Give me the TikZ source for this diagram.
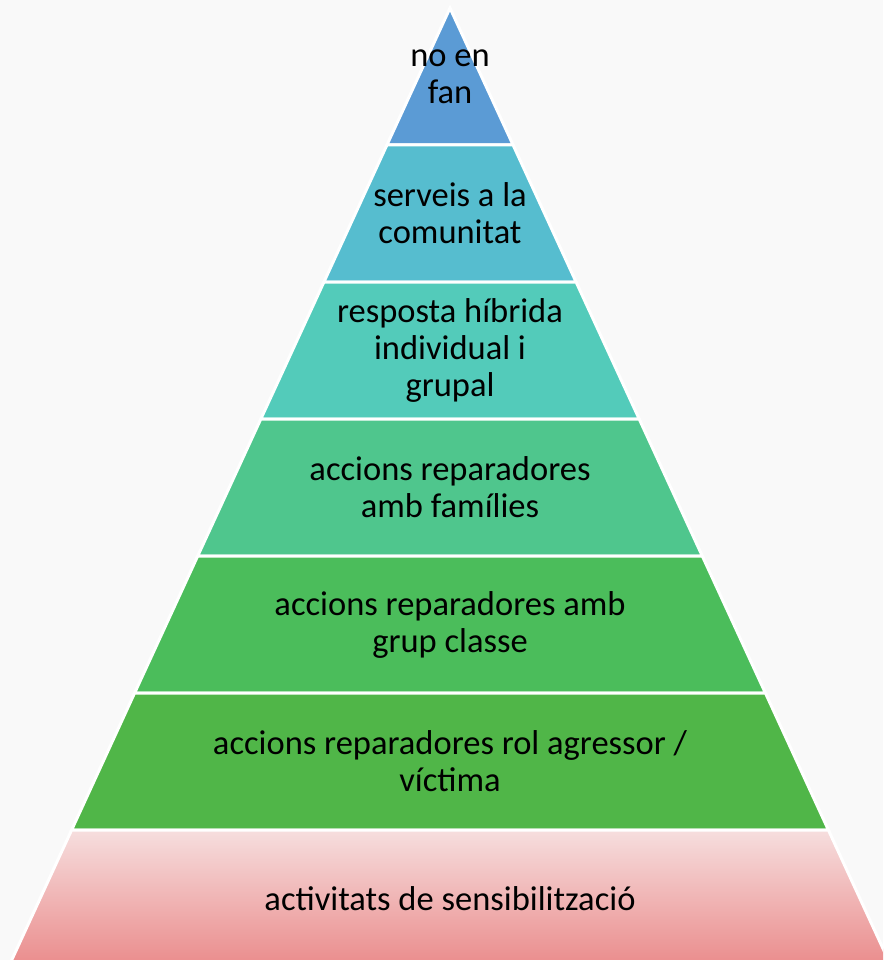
\documentclass[tikz,border=0pt]{standalone}
\usepackage{fontspec}
\setmainfont{Carlito}
\usetikzlibrary{calc}

\definecolor{bgcol}{HTML}{F9F9F9}
\definecolor{lvlone}{HTML}{5B9BD5}
\definecolor{lvltwo}{HTML}{56BDCF}
\definecolor{lvlthree}{HTML}{53CBBA}
\definecolor{lvlfour}{HTML}{4FC68D}
\definecolor{lvlfive}{HTML}{4BBD5B}
\definecolor{lvlsix}{HTML}{50B648}
\definecolor{basetop}{HTML}{F6DEDE}
\definecolor{basebot}{HTML}{EA8B8B}

\begin{document}
\begin{tikzpicture}[x=1pt, y=-1pt,
    layer/.style={draw=white, line width=3pt, line join=miter},
    lbl/.style={align=center, text=black,
                font=\fontsize{34.5}{37}\selectfont},
]

% background and page size
\fill[bgcol] (0,0) rectangle (883,960);
\useasboundingbox (0,0) rectangle (883,960);

% pyramid layers, top to bottom
\begin{scope}
\clip (0,0) rectangle (883,960);
\filldraw[layer, fill=lvlone] (450,8) -- (513.1,145) -- (386.9,145) -- cycle;
\filldraw[layer, fill=lvltwo] (386.9,145) -- (513.1,145) -- (576.1,282) -- (323.9,282) -- cycle;
\filldraw[layer, fill=lvlthree] (323.9,282) -- (576.1,282) -- (639.2,419) -- (260.8,419) -- cycle;
\filldraw[layer, fill=lvlfour] (260.8,419) -- (639.2,419) -- (702.3,556) -- (197.7,556) -- cycle;
\filldraw[layer, fill=lvlfive] (197.7,556) -- (702.3,556) -- (765.4,693) -- (134.6,693) -- cycle;
\filldraw[layer, fill=lvlsix] (134.6,693) -- (765.4,693) -- (828.4,830) -- (71.6,830) -- cycle;
\shade[top color=basetop, bottom color=basebot]
  (71.6,830) -- (828.4,830) -- (891.5,967) -- (8.5,967) -- cycle;
\draw[layer] (8.5,967) -- (71.6,830) -- (828.4,830) -- (891.5,967);
\end{scope}

% labels
\node[lbl] (nofan) at (450,76.5) {no en\\fan};
\node[lbl] (serveis) at (450,213.5) {serveis a la\\comunitat};
\node[lbl] (hibrida) at (450,350.5) {resposta híbrida\\individual i\\grupal};
\node[lbl] (families) at (450,487.5) {accions reparadores\\amb famílies};
\node[lbl] (classe) at (450,624.5) {accions reparadores amb\\grup classe};
\node[lbl] (agressor) at (450,761.5) {accions reparadores rol agressor /\\víctima};
\node[lbl] (sensib) at (450,898.5) {activitats de sensibilització};

\end{tikzpicture}
\end{document}
